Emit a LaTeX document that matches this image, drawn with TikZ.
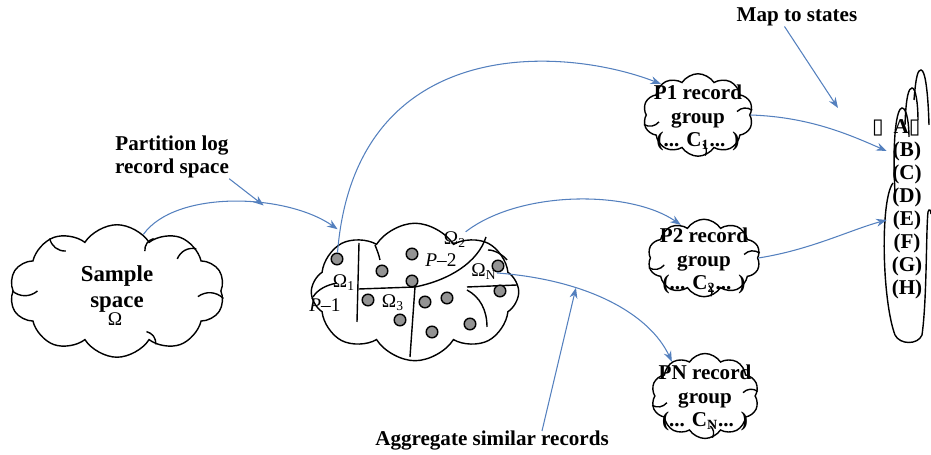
\documentclass[tikz,border=0pt]{standalone}
\usepackage{fontspec}
\setmainfont{Liberation Serif}
\newfontfamily\symbfont{DejaVu Sans}
\usetikzlibrary{calc}
\usetikzlibrary{shapes.symbols, arrows.meta, positioning}
\definecolor{linkblue}{RGB}{84,128,190}

\begin{document}
\begin{tikzpicture}[
		x=0.02cm, y=0.02cm,
		font=\fontsize{12}{13.5}\selectfont\bfseries,
		>={Stealth[length=6pt, width=4.5pt]}
		]
		\tikzstyle{puffy}=[
			cloud,
			draw,
			thick,
			cloud puffs=10,
			cloud puff arc=115,
			cloud ignores aspect,
			inner sep=0 pt
		]
		\tikzstyle{hook}=[
			thick,
			bend right=40
		]
		\tikzstyle{link}=[
			->,
			draw=linkblue,
			semithick
		]
		\tikzstyle{record}=[
			circle,
			draw,
			thick,
			fill=gray!85,
			minimum size=6.6 pt,
			inner sep=0 pt
		]
		\tikzstyle{caption}=[
			align=center,
			inner sep=0 pt
		]
		\tikzstyle{part}=[
			font=\fontsize{11}{11}\selectfont,
			inner sep=0 pt
		]
		\useasboundingbox (0,0) rectangle (931,455);
		% The clouds.
			\node[puffy, minimum width=4.3cm, minimum height=2.65cm] (sample) at (117,164) {};
			\node[puffy, cloud puffs=8, minimum width=4.15cm, minimum height=2.75cm] (space) at (415,163) {};
			\node[puffy, minimum width=2.2cm, minimum height=1.65cm] (p1) at (698,340) {};
			\node[puffy, minimum width=2.25cm, minimum height=1.55cm] (p2) at (704,197) {};
			\node[puffy, minimum width=2.15cm, minimum height=1.7cm] (pn) at (705,59) {};
		% Small arcs inside the clouds.
			\foreach \a in {180, 142, 306, 356, 28, 55}
				\draw[hook] (sample.\a) to ($(sample.\a)!0.24!(sample.center)$);
			\foreach \c in {p1, p2, pn}
				\foreach \a in {190, 5, 280}
					\draw[hook] (\c.\a) to ($(\c.\a)!0.28!(\c.center)$);
		% Texts of the clouds.
			\node[caption, font=\fontsize{13}{14.5}\selectfont\bfseries] (sampletxt) at (117,166) {Sample\\space};
			\node[part] (omega) at (115,136) {Ω};
			\node[caption] (p1txt) at (698,337) {P1 record\\group\\(... C\textsubscript{1}... )};
			\node[caption] (p2txt) at (704,194) {P2  record\\group\\(... C\textsubscript{2}... )};
			\node[caption] (pntxt) at (705,57) {PN record\\group\\(... C\textsubscript{N}... )};
		% Partition lines inside the record space.
			\draw[thick] (359,212) -- (357,133);
			\draw[thick] (359,166) -- (415,168);
			\draw[thick] (415,168) .. controls (450,175) and (478,193) .. (486,218);
			\draw[thick] (415,168) -- (410,98);
			\draw[thick] (467,168) -- (517,170);
			\draw[thick] (467,165) .. controls (480,158) and (487,145) .. (487,128);
			\draw[thick] (313,158) .. controls (318,166) and (327,170) .. (337,172);
			\draw[thick] (375,210) .. controls (377,205) and (379,200) .. (380,195);
			\draw[thick] (488,205) .. controls (495,205) and (503,200) .. (507,195);
		% Records in the partitions.
			\foreach \name / \x / \y in {1/337/196, 2/382/184, 3/412/201, 4/412/174, 5/368/155, 6/400/135,
					7/425/153, 8/447/157, 9/432/123, 10/470/131, 11/498/189, 12/500/164}
				\node[record] (d\name) at (\x,\y) {};
			\node[part] (om1) at (344,172) {Ω\textsubscript{1}};
			\node[part] (pa1) at (325,150) {\textit{P}–1};
			\node[part] (om3) at (393,152) {Ω\textsubscript{3}};
			\node[part] (pa2) at (441,195) {\textit{P}–2};
			\node[part] (om2) at (455,215) {Ω\textsubscript{2}};
			\node[part] (omn) at (484,183) {Ω\textsubscript{N}};
		% The states.
			\draw[thick] (895,262) .. controls (892,320) and (897,347) .. (902,347) .. controls (907,347) and (909,330) .. (909,318);
			\draw[thick] (905,330) .. controls (906,360) and (909,367) .. (912,367) .. controls (916,367) and (918,350) .. (918,335);
			\draw[thick] (914,355) .. controls (916,380) and (918,385) .. (921,385) .. controls (925,385) and (928,365) .. (929,330);
			\draw[thick] (893,272) .. controls (880,255) and (882,155) .. (895,120) .. controls (900,110) and (918,110) .. (922,120)
				.. controls (927,155) and (926,225) .. (928,243) .. controls (929,247) and (931,245) .. (931,241);
			\node (sbox) at (878,327) {\symbfont ▯};
			\node (sA) at (907,327) {A{\symbfont ▯}};
			\foreach \s [count=\i] in {B,...,H}
				\node (s\s) at (907,327-23*\i) {(\s)};
		% Captions.
			\node[caption] (parttxt) at (172,298) {Partition log\\record space};
			\node[caption] (maptxt) at (797,438) {Map to states};
			\node[caption] (aggtxt) at (492,14) {Aggregate similar records};
			\coordinate (mapend) at (838,347);
		% Connectors.
			\draw[link, shorten >=10pt] (sample.65) .. controls (175,265) and (285,262) .. (space.140) coordinate[pos=0.62] (hit1);
			\draw[link] (parttxt.south east) -- (hit1);
			\draw[link] (d1) .. controls (355,420) and (560,410) .. (p1.140);
			\draw[link] (p1.east) .. controls (810,338) and (850,320) .. (sB.west);
			\draw[link] (om2) .. controls (520,265) and (630,265) .. (p2.125);
			\draw[link] (p2.east) .. controls (810,205) and (850,225) .. (sE.west);
			\draw[link] (omn) .. controls (590,175) and (650,140) .. (pn.134) coordinate[pos=0.32] (hit6);
			\draw[link] ([xshift=-0.25cm]maptxt.south) -- (mapend);
			\draw[link] ([xshift=1cm]aggtxt.north) -- (hit6);
	\end{tikzpicture}
\end{document}
